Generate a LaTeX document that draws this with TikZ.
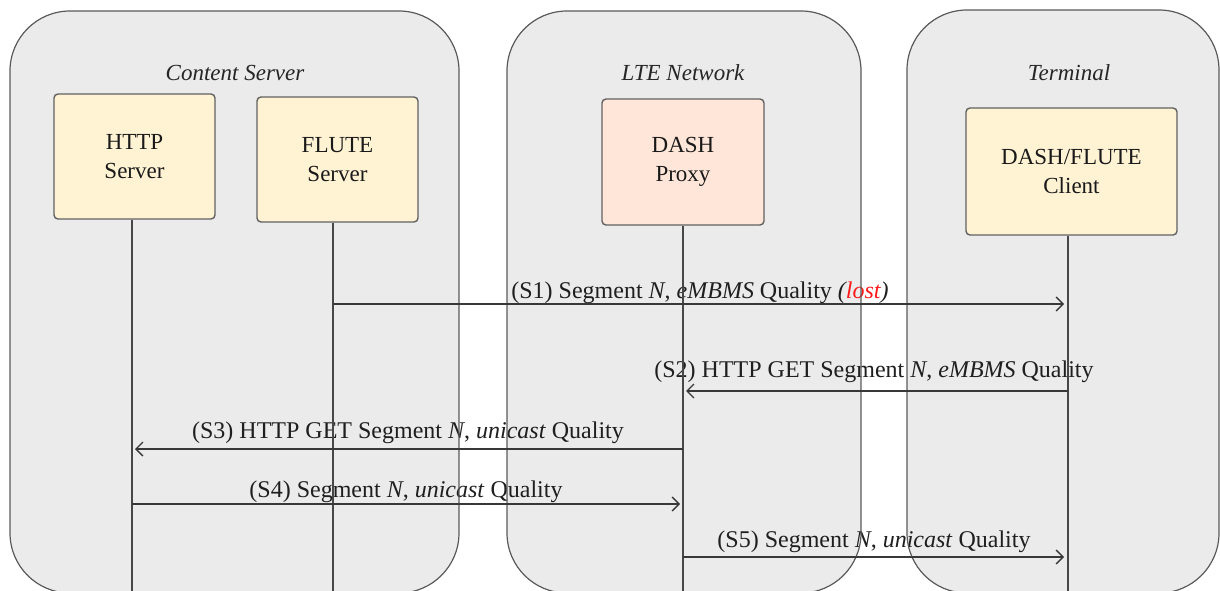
\documentclass[tikz,border=0pt]{standalone}
\usepackage{fontspec}
\setmainfont{Liberation Serif}
\usetikzlibrary{arrows.meta}
\definecolor{panelfill}{HTML}{EBEBEB}
\definecolor{paneldraw}{HTML}{5A5A5A}
\definecolor{servfill}{HTML}{FFF3D4}
\definecolor{proxyfill}{HTML}{FFE6D8}
\definecolor{lostred}{HTML}{FF1A1A}
\begin{document}
\begin{tikzpicture}[x=1pt,y=-1pt,
  panel/.style={rounded corners=60pt, fill=panelfill},
  panelline/.style={rounded corners=60pt, draw=paneldraw, line width=1.2pt},
  title/.style={font=\fontsize{23}{27}\selectfont\itshape, text=black!85, inner sep=0pt},
  unit/.style={draw=black!62, line width=1.4pt, rounded corners=4pt, align=center,
    font=\fontsize{23}{29}\selectfont, text=black!90, inner sep=0pt},
  life/.style={draw=black!72, line width=1.4pt},
  msg/.style={draw=black!78, line width=1.2pt,
    -{Straight Barb[length=7pt,width=14pt,line width=1.3pt]}},
  lbl/.style={font=\fontsize{24}{28}\selectfont, text=black!88, anchor=base, inner sep=0pt},
]
\useasboundingbox (0,0) rectangle (1220,591);
\clip (0,0) rectangle (1220,591);

% domain panels (fill first, outlines later so they sit over the labels)
\path[panel] (10,11) rectangle (459,593);
\path[panel] (507,11) rectangle (861,593);
\path[panel] (907,10) rectangle (1219,593);

% panel titles
\node[title] (tcs)  at (235,73) {Content Server};
\node[title] (tlte) at (683,73) {LTE Network};
\node[title] (tter) at (1069,73) {Terminal};

% entities
\node[unit, fill=servfill, minimum width=161pt, minimum height=125pt] (http)  at (134.5,156.5) {HTTP\\Server};
\node[unit, fill=servfill, minimum width=161pt, minimum height=125pt] (flute) at (337.5,159.5) {FLUTE\\Server};
\node[unit, fill=proxyfill, minimum width=162pt, minimum height=126pt] (proxy) at (683,162) {DASH\\Proxy};
\node[unit, fill=servfill, minimum width=211pt, minimum height=127pt] (client) at (1071.5,171.5) {DASH/FLUTE\\Client};

% message labels
\node[lbl] (l1) at (700,298) {(S1) Segment \textit{N}, \textit{eMBMS} Quality \textit{(\textcolor{lostred}{lost})}};
\node[lbl] (l2) at (874,377) {(S2) HTTP GET Segment \textit{N}, \textit{eMBMS} Quality};
\node[lbl] (l3) at (408,438) {(S3) HTTP GET Segment \textit{N}, \textit{unicast} Quality};
\node[lbl] (l4) at (406,497) {(S4) Segment \textit{N}, \textit{unicast} Quality};
\node[lbl] (l5) at (874,547) {(S5) Segment \textit{N}, \textit{unicast} Quality};

% panel outlines
\draw[panelline] (10,11) rectangle (459,593);
\draw[panelline] (507,11) rectangle (861,593);
\draw[panelline] (907,10) rectangle (1219,593);

% lifelines
\coordinate (httpEnd)   at (132,595);
\coordinate (fluteEnd)  at (333,595);
\coordinate (proxyEnd)  at (683,595);
\coordinate (clientEnd) at (1068,595);
\draw[life] (http.south -| httpEnd) -- (httpEnd);
\draw[life] (flute.south -| fluteEnd) -- (fluteEnd);
\draw[life] (proxy.south -| proxyEnd) -- (proxyEnd);
\draw[life] (client.south -| clientEnd) -- (clientEnd);

% message anchor points on the lifelines
\coordinate (m1a) at (333,304);  \coordinate (m1b) at (1064,304);
\coordinate (m2a) at (1068,391); \coordinate (m2b) at (686,391);
\coordinate (m3a) at (683,449);  \coordinate (m3b) at (135,449);
\coordinate (m4a) at (132,504);  \coordinate (m4b) at (680,504);
\coordinate (m5a) at (683,557);  \coordinate (m5b) at (1064,557);

% messages
\draw[msg] (m1a) -- (m1b);
\draw[msg] (m2a) -- (m2b);
\draw[msg] (m3a) -- (m3b);
\draw[msg] (m4a) -- (m4b);
\draw[msg] (m5a) -- (m5b);
\end{tikzpicture}
\end{document}
